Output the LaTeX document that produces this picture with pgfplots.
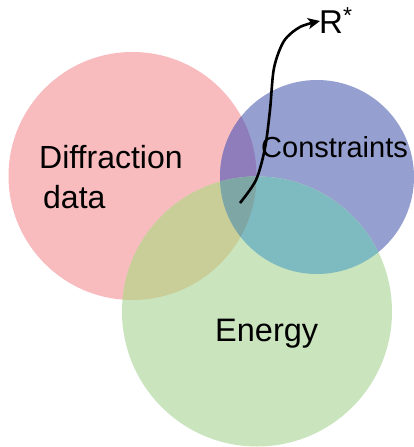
\documentclass[border=0pt]{standalone}
\usepackage{pgfplots}
\pgfplotsset{compat=1.18}
\usepackage{fontspec}
\setmainfont{Liberation Sans}
\usetikzlibrary{arrows.meta}
\definecolor{cP}{RGB}{248,187,190}
\definecolor{cB}{RGB}{149,159,208}
\definecolor{cG}{RGB}{202,228,190}
\definecolor{cPG}{RGB}{201,206,152}
\definecolor{cPB}{RGB}{143,125,187}
\definecolor{cGB}{RGB}{126,187,193}
\definecolor{cPGB}{RGB}{126,166,165}
% plain filled disc
\pgfdeclareplotmark{disc}{\pgfpathcircle{\pgfpointorigin}{\pgfplotmarksize}\pgfusepathqfill}
% blue circle clipped to red circle (mark placed at blue centre)
\pgfdeclareplotmark{lensPB}{%
  \begin{pgfscope}
  \pgfpathcircle{\pgfpoint{-184.5pt}{1pt}}{124pt}\pgfusepath{clip}%
  \pgfpathcircle{\pgfpointorigin}{97pt}\pgfusepathqfill
  \end{pgfscope}}
% green circle clipped to red circle (mark placed at green centre)
\pgfdeclareplotmark{lensPG}{%
  \begin{pgfscope}
  \pgfpathcircle{\pgfpoint{-124.5pt}{135.5pt}}{124pt}\pgfusepath{clip}%
  \pgfpathcircle{\pgfpointorigin}{135pt}\pgfusepathqfill
  \end{pgfscope}}
% blue circle clipped to green circle (mark placed at blue centre)
\pgfdeclareplotmark{lensGB}{%
  \begin{pgfscope}
  \pgfpathcircle{\pgfpoint{-60pt}{-134.5pt}}{135pt}\pgfusepath{clip}%
  \pgfpathcircle{\pgfpointorigin}{97pt}\pgfusepathqfill
  \end{pgfscope}}
% blue circle clipped to red and green circles (mark placed at blue centre)
\pgfdeclareplotmark{lensPGB}{%
  \begin{pgfscope}
  \pgfpathcircle{\pgfpoint{-184.5pt}{1pt}}{124pt}\pgfusepath{clip}%
  \pgfpathcircle{\pgfpoint{-60pt}{-134.5pt}}{135pt}\pgfusepath{clip}%
  \pgfpathcircle{\pgfpointorigin}{97pt}\pgfusepathqfill
  \end{pgfscope}}
\begin{document}
\begin{tikzpicture}
\begin{axis}[at={(0,0)}, anchor=south west, scale only axis,
  width=414pt, height=447pt, xmin=0, xmax=414, ymin=0, ymax=447,
  y dir=reverse, hide axis, clip=false, clip marker paths=true]
% base circles
\addplot[only marks, mark=disc, mark size=124pt, mark options={fill=cP}] coordinates {(132.5,176)};
\addplot[only marks, mark=disc, mark size=97pt, mark options={fill=cB}] coordinates {(317,177)};
\addplot[only marks, mark=disc, mark size=135pt, mark options={fill=cG}] coordinates {(257,311.5)};
% overlaps
\addplot[only marks, mark=lensPB, mark options={fill=cPB}] coordinates {(317,177)};
\addplot[only marks, mark=lensPG, mark options={fill=cPG}] coordinates {(257,311.5)};
\addplot[only marks, mark=lensGB, mark options={fill=cGB}] coordinates {(317,177)};
\addplot[only marks, mark=lensPGB, mark options={fill=cPGB}] coordinates {(317,177)};
% labels
\node[anchor=base west, inner sep=0pt, font=\fontsize{32}{32}\selectfont] at (axis cs:39,168) {Diffraction};
\node[anchor=base west, inner sep=0pt, font=\fontsize{32}{32}\selectfont] at (axis cs:43,208) {data};
\node[anchor=base west, inner sep=0pt, font=\fontsize{29}{29}\selectfont] at (axis cs:261,157) {Constraints};
\node[anchor=base west, inner sep=0pt, font=\fontsize{32.5}{32.5}\selectfont] at (axis cs:215,341) {Energy};
\node[anchor=base west, inner sep=0pt, font=\fontsize{33}{33}\selectfont] at (axis cs:319,33) {R\textsuperscript{*}};
% arrow
\addplot[smooth, line width=2.6pt, -{Stealth[length=12pt, width=11pt, inset=3pt]}] coordinates {(240,203) (256,180) (265,148) (270,110) (274,68) (284,41) (300,27) (320,21)};
\end{axis}
\pgfresetboundingbox
\useasboundingbox (0,0) rectangle (414pt,447pt);
\end{tikzpicture}
\end{document}
